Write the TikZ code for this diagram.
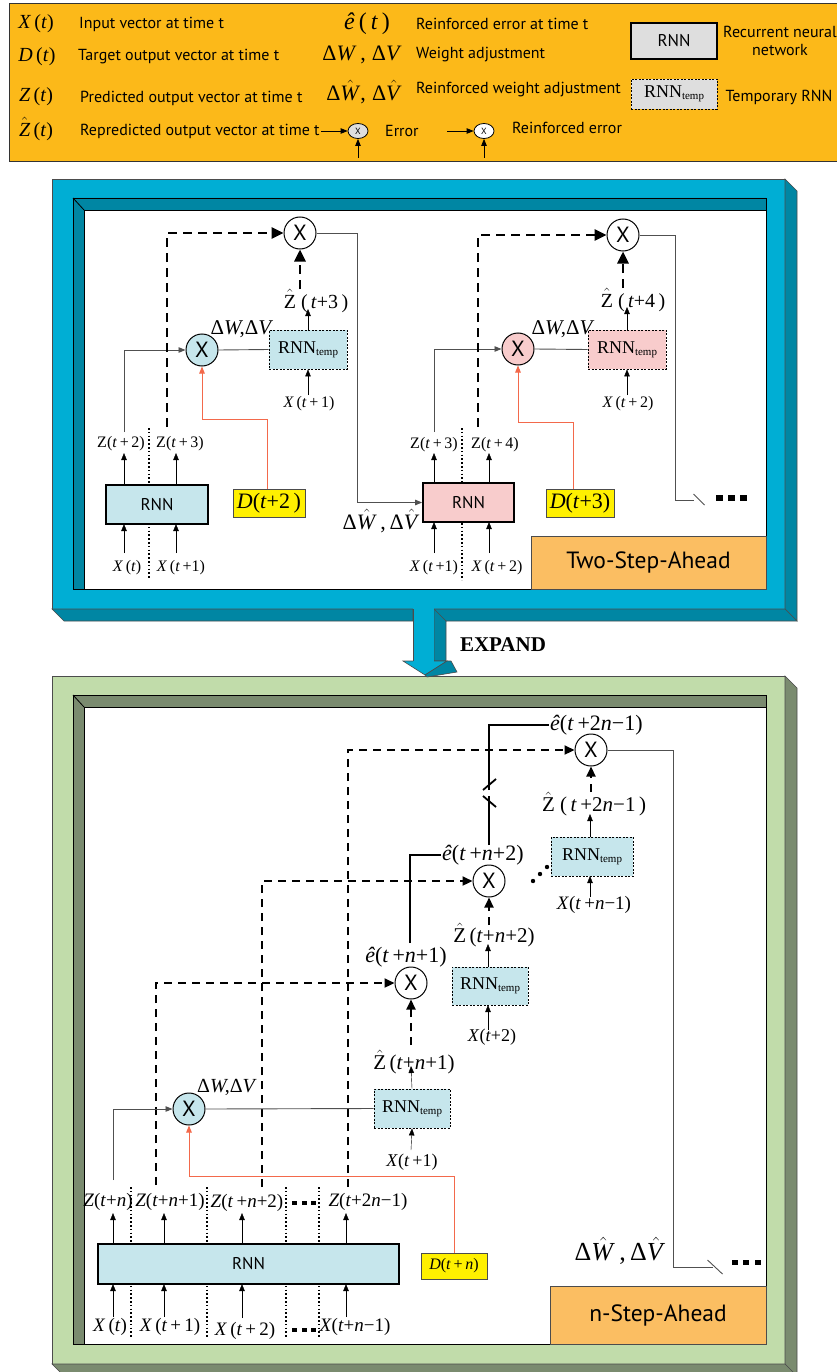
\documentclass[tikz,border=0pt]{standalone}
\usepackage{fontspec}
\setmainfont{Liberation Serif}
\setsansfont{PT Sans}
\usetikzlibrary{arrows.meta,shapes.geometric}
\definecolor{legor}{RGB}{252,185,25}
\definecolor{bluel}{RGB}{0,174,212}
\definecolor{blued}{RGB}{0,134,163}
\definecolor{greenl}{RGB}{193,220,170}
\definecolor{greend}{RGB}{122,139,111}
\definecolor{lblue}{RGB}{198,230,236}
\definecolor{lpink}{RGB}{248,204,204}
\definecolor{dyel}{RGB}{255,240,0}
\definecolor{tagor}{RGB}{251,190,98}
\definecolor{redl}{RGB}{243,105,75}
\definecolor{lgrey}{RGB}{222,222,222}
\definecolor{linegrey}{RGB}{80,80,80}
\newcommand{\fs}[1]{\fontsize{#1}{#1}\selectfont}
\newcommand{\iv}[1]{\textit{#1}}
\newcommand{\hatc}[1]{\ensuremath{\hat{\mbox{#1}}}}
\newcommand{\rnntemp}{RNN\raisebox{-2pt}{\fs{11}temp}}
\begin{document}
\begin{tikzpicture}[x=1pt,y=-1pt,
  lbl/.style={inner sep=1pt},
  ltxt/.style={inner sep=0pt,font=\sffamily\fs{16}},
  thinl/.style={draw=linegrey,line width=0.9pt},
  arr/.style={-{Triangle[length=7pt,width=5.5pt]}},
  bigarr/.style={-{Triangle[length=12pt,width=11pt]}},
  bigarrb/.style={-{Triangle[length=10pt,width=9pt]}},
  tdash/.style={line width=2.8pt,dash pattern=on 9pt off 6pt},
  bdash/.style={line width=2.2pt,dash pattern=on 8pt off 6pt},
  thk/.style={line width=2.4pt},
  rl/.style={draw=redl,line width=1pt,-{Triangle[length=7pt,width=5.5pt]}},
  dotl/.style={line width=1.6pt,dash pattern=on 1.6pt off 2.2pt},
  rnnbox/.style={draw,line width=1.8pt,inner sep=0pt,font=\sffamily\fs{17}},
  tmpbox/.style={draw,line width=0.8pt,dash pattern=on 2pt off 1.5pt,inner sep=0pt,font=\fs{18}},
  circ/.style={circle,draw,line width=1pt,minimum size=32pt,inner sep=0pt,font=\sffamily\fs{22}},
  dbox/.style={draw=black!70,line width=1pt,fill=dyel,inner sep=0pt},
  tagbox/.style={draw=black!70,line width=1pt,fill=tagor,inner sep=0pt,font=\sffamily\fs{23.5}}
]
\useasboundingbox (0,0) rectangle (837,1372);

% ================= LEGEND =================
\path[draw=black!80,line width=1pt,fill=legor] (9,4) rectangle (850,162);
\node[lbl,font=\fs{20}] (lx) at (36,24) {\iv{X}\,(\iv{t})};
\node[lbl,font=\fs{20}] (ld) at (37,57) {\iv{D}\,(\iv{t})};
\node[lbl,font=\fs{20}] (lz) at (36,97) {\iv{Z}\,(\iv{t})};
\node[lbl,font=\fs{20}] (lzh) at (36,129) {\hatc{\iv{Z}}\,(\iv{t})};
\node[ltxt,anchor=west] (lxt) at (79,24) {Input vector at time t};
\node[ltxt,anchor=west] (ldt) at (78,57) {Target output vector at time t};
\node[ltxt,anchor=west] (lzt) at (80,98) {Predicted output vector at time t};
\node[ltxt,anchor=west] (lzht) at (80,131) {Repredicted output vector at time t};
\node[lbl,font=\fs{24}] (le) at (367,24) {\iv{ê}\,(\,\iv{t}\,)};
\node[lbl,font=\fs{22}] (ldw) at (362,55) {Δ\iv{W}\,,\;Δ\iv{V}};
\node[lbl,font=\fs{22}] (ldwh) at (364,92) {Δ\hatc{\iv{W}},\;Δ\hatc{\iv{V}}};
\node[ellipse,draw,line width=0.8pt,fill=lgrey,minimum width=20pt,minimum height=15pt,inner sep=0pt,font=\sffamily\fs{9}] (lerr) at (358,131) {X};
\coordinate (lerrl) at (321,131);
\coordinate (lerrb) at (358,158);
\draw[arr,line width=0.8pt] (lerrl) -- (lerr.west);
\draw[arr,line width=0.8pt] (lerrb) -- (lerr.south);
\node[ltxt,anchor=west] (lerrt) at (385,131) {Error};
\node[ltxt,anchor=west] (let) at (416,24) {Reinforced error at time t};
\node[ltxt,anchor=west] (ldwt) at (416,55) {Weight adjustment};
\node[ltxt,anchor=west] (ldwht) at (416,90) {Reinforced weight adjustment};
\node[ellipse,draw,line width=0.8pt,fill=white,minimum width=20pt,minimum height=15pt,inner sep=0pt,font=\sffamily\fs{9}] (lrerr) at (484,131) {X};
\coordinate (lrerrl) at (447,131);
\coordinate (lrerrb) at (484,158);
\draw[arr,line width=0.8pt] (lrerrl) -- (lrerr.west);
\draw[arr,line width=0.8pt] (lrerrb) -- (lrerr.south);
\node[ltxt,anchor=west] (lrerrt) at (512,128) {Reinforced error};
\node[rnnbox,fill=lgrey,minimum width=86pt,minimum height=36pt] (lrnn) at (674,41) {RNN};
\node[ltxt,align=center,font=\sffamily\fontsize{16}{18}\selectfont] (lrnnt) at (780,41) {Recurrent neural\\network};
\node[tmpbox,fill=lgrey,minimum width=86pt,minimum height=30pt] (ltmp) at (674,94) {\rnntemp};
\node[ltxt] (ltmpt) at (779,97) {Temporary RNN};

% ================= TOP PANEL FRAME =================
\fill[bluel,draw=black!70,line width=0.6pt] (52,179) rectangle (785,609);
\fill[blued,draw=black!70,line width=0.6pt] (785,179) -- (797,191) -- (797,621) -- (785,609) -- cycle;
\fill[blued,draw=black!70,line width=0.6pt] (52,609) -- (413,609) -- (413,621) -- (64,621) -- cycle;
\fill[blued,draw=black!70,line width=0.6pt] (434,609) -- (785,609) -- (797,621) -- (446,621) -- (446,661) -- (434,661) -- cycle;
\draw[black!70,line width=0.6pt] (434,609) -- (446,621);
\fill[blued,draw=black,line width=0.8pt] (73,198) -- (766,198) -- (766,210) -- (84,210) -- (84,589) -- (73,589) -- cycle;
\draw[line width=0.8pt] (73,198) -- (84,210);
\fill[white,draw=black,line width=0.8pt] (84,210) rectangle (766,589);

% ================= BOTTOM PANEL FRAME =================
\fill[greenl,draw=black!70,line width=0.6pt] (52,676) rectangle (785,1364);
\fill[greend,draw=black!70,line width=0.6pt] (785,676) -- (797,688) -- (797,1378) -- (785,1364) -- cycle;
\fill[greend,draw=black!70,line width=0.6pt] (52,1364) -- (785,1364) -- (797,1376) -- (64,1376) -- cycle;
\fill[greend,draw=black,line width=0.8pt] (73,695) -- (766,695) -- (766,707) -- (84,707) -- (84,1344) -- (73,1344) -- cycle;
\draw[line width=0.8pt] (73,695) -- (84,707);
\fill[white,draw=black,line width=0.8pt] (84,707) rectangle (766,1344);

% ================= EXPAND ARROW =================
\fill[bluel] (413,605) rectangle (434,661);
\draw[black!70,line width=0.6pt] (413,609) -- (413,661);
\fill[bluel,draw=black!70,line width=0.6pt] (413,661) -- (403,661) -- (425,675) -- (447,661) -- (434,661);
\fill[blued,draw=black!70,line width=0.6pt] (425,675) -- (447,661) -- (451,661) -- (457,672) -- (427,677) -- cycle;
\node[font=\bfseries\fs{21},inner sep=0pt] (expand) at (503,645) {EXPAND};

% ================= TOP PANEL CONTENT =================
% left block
\draw[dotl] (149,428) -- (149,578);
\node[rnnbox,fill=lblue,minimum width=102pt,minimum height=39pt] (rnnA) at (157,504.5) {RNN};
\node[lbl,font=\fs{16}] (zA1) at (121,444) {Z(\iv{t}\,+\,2)};
\node[lbl,font=\fs{16}] (zA2) at (180,444) {Z(\iv{t}\,+\,3)};
\node[lbl,font=\fs{16}] (xA1) at (127,568) {\iv{X}\,(\iv{t})};
\node[lbl,font=\fs{16}] (xA2) at (181,568) {\iv{X}\,(\iv{t}\,+1)};
\draw[arr] (124,485) -- (124,453);
\draw[arr] (176,485) -- (176,453);
\draw[arr] (124,553) -- (124,524);
\draw[arr] (176,553) -- (176,524);
\node[circ,fill=lblue] (cA) at (202,350) {X};
\node[tmpbox,fill=lblue,minimum width=78pt,minimum height=39pt] (tA) at (308,349.5) {\rnntemp};
\draw[thinl] (cA.east) -- (tA.west);
\draw[thinl,arr] (124,432) |- (cA.west);
\node[lbl,font=\fs{21}] (dwA) at (242,329) {Δ\iv{W}\!,Δ\iv{V}};
\node[lbl,font=\fs{16}] (xA3) at (309,404) {\iv{X}\,(\iv{t}\,+\,1)};
\draw[arr] (308,395) -- (tA.south);
\node[lbl,font=\fs{20}] (zhA) at (316,301) {\hatc{Z}\ (\,\iv{t}+3\,)};
\draw[arr] (tA.north) -- (308,309);
\node[circ,fill=white] (c2) at (300,233) {X};
\draw[tdash,bigarr] (300,289) -- (c2.south);
\draw[tdash,bigarr] (167,427) |- (c2.west);
\node[dbox,minimum width=72pt,minimum height=28pt,font=\fs{22}] (dA) at (269,503) {\iv{D}(\iv{t}+2\,)};
\draw[rl] (267,489) -- ++(0,-70) -| (cA.south);
\node[lbl,font=\fs{22}] (dwhA) at (381,521) {Δ\hatc{\iv{W}}\,,\,Δ\hatc{\iv{V}}};
% right block
\draw[dotl] (462,428) -- (462,580);
\node[rnnbox,fill=lpink,minimum width=91pt,minimum height=39pt] (rnnB) at (468.5,502.5) {RNN};
\draw[thinl,arr] (c2.east) -- ++(41,0) |- (rnnB.west);
\node[lbl,font=\fs{16}] (zB1) at (434,445) {Z(\iv{t}\,+\,3)};
\node[lbl,font=\fs{16}] (zB2) at (495,445) {Z(\iv{t}\,+\,4)};
\node[lbl,font=\fs{16}] (xB1) at (434,568) {\iv{X}\,(\iv{t}\,+1)};
\node[lbl,font=\fs{16}] (xB2) at (497,568) {\iv{X}\,(\iv{t}\,+\,2)};
\draw[arr] (434,483) -- (434,453);
\draw[arr] (489,483) -- (489,453);
\draw[arr] (434,553) -- (434,522);
\draw[arr] (489,553) -- (489,522);
\node[circ,fill=lpink] (cB) at (518,349) {X};
\node[tmpbox,fill=lpink,minimum width=78pt,minimum height=39pt] (tB) at (627,349.5) {\rnntemp};
\draw[thinl] (cB.east) -- (tB.west);
\draw[thinl,arr] (434,432) |- (cB.west);
\node[lbl,font=\fs{21}] (dwB) at (563,329) {Δ\iv{W}\!,Δ\iv{V}};
\node[lbl,font=\fs{16}] (xB3) at (628,404) {\iv{X}\,(\iv{t}\,+\,2)};
\draw[arr] (627,395) -- (tB.south);
\node[lbl,font=\fs{20}] (zhB) at (633,300) {\hatc{Z}\ (\,\iv{t}+4\,)};
\draw[arr] (tB.north) -- (627,307);
\node[circ,fill=white] (c4) at (623,235) {X};
\draw[tdash,bigarr] (623,288) -- (c4.south);
\draw[tdash,bigarr] (478,427) |- (c4.west);
\node[dbox,minimum width=68pt,minimum height=28pt,font=\fs{22}] (dB) at (580,503) {\iv{D}(\iv{t}+3)};
\draw[rl] (573,489) -- ++(0,-67) -| (cB.south);
\draw[thinl] (c4.east) -- ++(36,0) -- ++(0,265) -- ++(18,0) coordinate (swA);
\draw[thinl] (swA) ++(0,-6) -- ++(11,11);
\fill (716,495) rectangle ++(7,6);
\fill (728,495) rectangle ++(7,6);
\fill (740,495) rectangle ++(7,6);
\node[tagbox,minimum width=235pt,minimum height=53pt] (two) at (648.5,562.5) {Two-Step-Ahead};

% ================= BOTTOM PANEL CONTENT =================
\draw[dotl] (131,1187) -- (131,1338);
\draw[dotl] (207,1187) -- (207,1338);
\draw[dotl] (286,1187) -- (286,1338);
\draw[dotl] (319,1187) -- (319,1338);
\node[rnnbox,fill=lblue,minimum width=301pt,minimum height=40pt] (rnnC) at (248.5,1264) {RNN};
\node[lbl,font=\fs{19}] (zC1) at (108,1202) {\iv{Z}(\iv{t}+\iv{n})};
\node[lbl,font=\fs{19}] (zC2) at (170,1202) {\iv{Z}(\iv{t}+\iv{n}+1)};
\node[lbl,font=\fs{19}] (zC3) at (247,1203) {\iv{Z}(\iv{t}\,+\iv{n}+2)};
\node[lbl,font=\fs{19}] (zC4) at (368,1202) {\iv{Z}(\iv{t}+2\iv{n}−1)};
\draw[arr] (113,1244) -- (113,1213);
\draw[arr] (164,1244) -- (164,1213);
\draw[arr] (242,1244) -- (242,1213);
\draw[arr] (346,1244) -- (346,1213);
\node[lbl,font=\fs{19}] (xC1) at (110,1327) {\iv{X}\,(\iv{t})};
\node[lbl,font=\fs{19}] (xC2) at (170,1327) {\iv{X}\,(\iv{t}\,+\,1)};
\node[lbl,font=\fs{19}] (xC3) at (245,1331) {\iv{X}\,(\iv{t}\,+\,2)};
\node[lbl,font=\fs{19}] (xC4) at (355,1327) {\iv{X}(\iv{t}+\iv{n}−1)};
\draw[arr] (113,1317) -- (113,1284);
\draw[arr] (164,1317) -- (164,1284);
\draw[arr] (242,1318) -- (242,1284);
\draw[arr] (346,1317) -- (346,1284);
\fill (292,1201) rectangle ++(5,4);
\fill (302,1201) rectangle ++(5,4);
\fill (311,1201) rectangle ++(5,4);
\fill (292,1328) rectangle ++(5,4);
\fill (302,1328) rectangle ++(5,4);
\fill (311,1328) rectangle ++(5,4);
% circles
\node[circ,fill=lblue] (cC) at (189,1109) {X};
\node[circ,fill=white] (cB2) at (411,983) {X};
\node[circ,fill=white] (cC2) at (489,881) {X};
\node[circ,fill=white] (cD) at (591,750) {X};
% dashed long lines
\draw[bdash,bigarrb] (156,1185) |- (cB2.west);
\draw[bdash,bigarrb] (262,1187) |- (cC2.west);
\draw[bdash,bigarrb] (348,1187) |- (cD.west);
% temp rnn C
\node[tmpbox,fill=lblue,minimum width=76pt,minimum height=39pt] (tC) at (412,1108.5) {\rnntemp};
\draw[thinl] (cC.east) -- (tC.west);
\draw[thinl,arr] (113,1180) |- (cC.west);
\node[lbl,font=\fs{20}] (dwC) at (227,1087) {Δ\iv{W}\!,Δ\iv{V}};
\node[lbl,font=\fs{18}] (xC5) at (412,1162) {\iv{X}(\iv{t}\,+1)};
\draw[arr] (411,1150) -- (tC.south);
\node[lbl,font=\fs{21}] (zhC) at (414,1062) {\hatc{Z}\,(\iv{t}+\iv{n}+1)};
\draw[arr] (tC.north) -- (411,1066);
\draw[bdash,bigarrb] (411,1045) -- (cB2.south);
\node[dbox,minimum width=66pt,minimum height=26pt,font=\fs{16}] (dC) at (454,1266) {\iv{D}(\iv{t}\,+\,\iv{n})};
\draw[rl] (dC.north) -- ++(0,-76) -| (cC.south);
% temp rnn B2
\node[tmpbox,fill=lblue,minimum width=76pt,minimum height=38pt] (tB2) at (490,986) {\rnntemp};
\node[lbl,font=\fs{18}] (xB4) at (492,1037) {\iv{X}(\iv{t}+2)};
\draw[arr] (488,1030) -- (488,1005);
\node[lbl,font=\fs{21}] (zhB2) at (494,935) {\hatc{Z}\,(\iv{t}+\iv{n}+2)};
\draw[arr] (488,967) -- (488,944);
\draw[bdash,bigarrb] (489,925) -- (cC2.south);
% temp rnn D
\node[tmpbox,fill=lblue,minimum width=82pt,minimum height=39pt] (tD) at (592,856.5) {\rnntemp};
\node[lbl,font=\fs{21}] (zhD) at (594,804) {\hatc{Z}\ (\,\iv{t}\,+2\iv{n}−1\,)};
\draw[arr] (590,837) -- (590,814);
\draw[bdash,bigarrb] (591,792) -- (cD.south);
\node[lbl,font=\fs{19}] (xD) at (594,905) {\iv{X}(\iv{t}\,+\iv{n}−1)};
\draw[arr] (590,897) -- (590,876);
\fill (533,881) circle (2.2);
\fill (540,874) circle (2.2);
\fill (547,867) circle (2.2);
% reinforced error labels and thick lines
\node[lbl,font=\fs{22}] (eB) at (406,957) {\iv{ê}(\iv{t}\,+\iv{n}+1)};
\node[lbl,font=\fs{22},anchor=west] (eC) at (441,855) {\iv{ê}(\iv{t}\,+\iv{n}+2)};
\node[lbl,font=\fs{22},anchor=west] (eD) at (549,725) {\iv{ê}(\iv{t}\,+2\iv{n}−1)};
\draw[thk] (410,943) |- (eC.west);
\draw[thk] (489,845) -- (489,796);
\draw[thk] (489,790) |- (eD.west);
\draw[line width=1.8pt] (483,790) -- (496,779);
\draw[line width=1.8pt] (483,796) -- (496,807);
% output line from cD
\draw[thinl] (cD.east) -- ++(66,0) -- ++(0,517) -- ++(39,0) coordinate (swB);
\draw[thinl] (swB) ++(-5,-7) -- ++(15,14);
\fill (732,1260) rectangle ++(6,5);
\fill (743,1260) rectangle ++(6,5);
\fill (755,1260) rectangle ++(6,5);
\node[lbl,font=\fs{26}] (dwhC) at (620,1251) {Δ\hatc{\iv{W}}\,,\,Δ\hatc{\iv{V}}};
\node[tagbox,minimum width=216pt,minimum height=58pt] (nstep) at (658,1315) {n-Step-Ahead};
\end{tikzpicture}
\end{document}
